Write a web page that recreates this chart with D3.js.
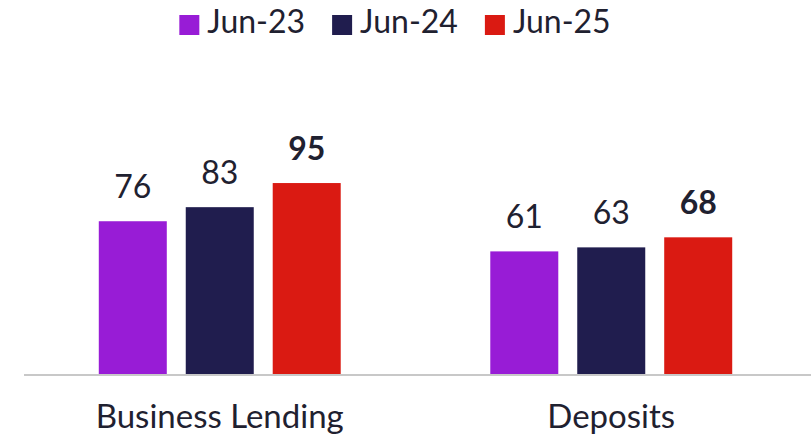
<!DOCTYPE html>
<html>
<head>
<meta charset="utf-8">
<script src="https://cdn.jsdelivr.net/npm/d3@7"></script>
<style>
  body { margin: 0; background: #fff; }
  text { font-family: Lato, "Noto Sans", sans-serif; fill: #1f2130; }
</style>
</head>
<body>
<div id="chart"></div>
<script>
// data
var categories = ["Business Lending", "Deposits"];
var series = ["Jun-23", "Jun-24", "Jun-25"];
var values = {
  "Business Lending": [76, 83, 95],
  "Deposits": [61, 63, 68]
};
var colors = ["#981cd6", "#201d4e", "#da1a12"];

var width = 811, height = 435;
var margin = {left: 24, right: 4, base: 374};

var svg = d3.select("#chart")
  .append("svg")
    .attr("width", width)
    .attr("height", height);

var x0 = d3.scaleBand()
  .domain(categories)
  .range([margin.left, width - margin.right]);

var x1 = d3.scaleBand()
  .domain(series)
  .range([0, x0.bandwidth()])
  .paddingInner(0.218)
  .paddingOuter(0.86);

var y = d3.scaleLinear()
  .domain([0, 100])
  .range([margin.base, 173]);

// bars
var groups = svg.append("g")
  .selectAll("g")
  .data(categories)
  .enter()
  .append("g")
    .attr("transform", function (d) { return "translate(" + x0(d) + ",0)"; });

groups.selectAll("rect")
  .data(function (c) { return series.map(function (s, i) { return {s: s, i: i, v: values[c][i]}; }); })
  .enter()
  .append("rect")
    .attr("x", function (d) { return x1(d.s); })
    .attr("y", function (d) { return y(d.v); })
    .attr("width", x1.bandwidth())
    .attr("height", function (d) { return y(0) - y(d.v); })
    .style("fill", function (d) { return colors[d.i]; });

groups.selectAll("text")
  .data(function (c) { return series.map(function (s, i) { return {s: s, i: i, v: values[c][i]}; }); })
  .enter()
  .append("text")
    .attr("x", function (d) { return x1(d.s) + x1.bandwidth() / 2; })
    .attr("y", function (d) { return y(d.v) - 23; })
    .attr("text-anchor", "middle")
    .style("font-size", "32px")
    .style("font-weight", function (d) { return d.i === 2 ? "bold" : "normal"; })
    .text(function (d) { return d.v; });

// baseline
svg.append("line")
  .attr("x1", margin.left)
  .attr("x2", width)
  .attr("y1", y(0) + 1)
  .attr("y2", y(0) + 1)
  .style("stroke", "#c8c8c8")
  .style("stroke-width", 2);

// category labels
svg.append("g")
  .selectAll("text")
  .data(categories)
  .enter()
  .append("text")
    .attr("x", function (d) { return x0(d) + x0.bandwidth() / 2; })
    .attr("y", 428)
    .attr("text-anchor", "middle")
    .style("font-size", "33px")
    .text(function (d) { return d; });

// legend
var legend = svg.append("g");
var lx = 0;
series.forEach(function (s, i) {
  var item = legend.append("g").attr("transform", "translate(" + lx + ",0)");
  item.append("rect")
    .attr("x", 0).attr("y", 15)
    .attr("width", 20).attr("height", 20)
    .style("fill", colors[i]);
  var t = item.append("text")
    .attr("x", 28).attr("y", 33)
    .style("font-size", "32px")
    .text(s);
  lx += 28 + t.node().getComputedTextLength() + 27;
});
var lw = lx - 27;
legend.attr("transform", "translate(" + (395 - lw / 2) + ",0)");
</script>
</body>
</html>
